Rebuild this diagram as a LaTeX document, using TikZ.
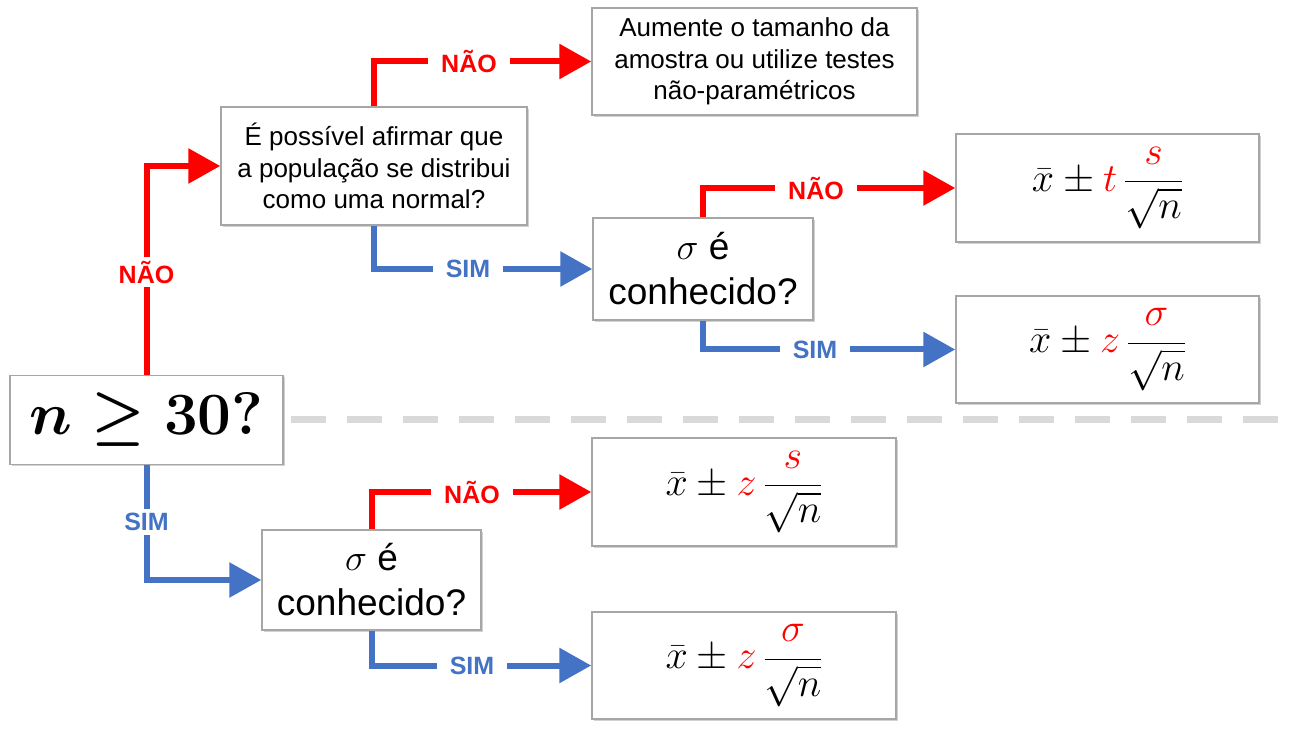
\RequirePackage{fix-cm}
\documentclass[tikz,border=0pt]{standalone}
\usepackage[no-math]{fontspec}
\setmainfont{Liberation Sans}
\usetikzlibrary{arrows.meta,shadows}
\definecolor{myred}{RGB}{255,0,0}
\definecolor{myblue}{RGB}{68,114,196}
\definecolor{boxline}{RGB}{166,166,166}
\definecolor{sepgray}{RGB}{217,217,217}
\tikzset{
  mybox/.style={draw=boxline, line width=1.5pt, fill=white, inner sep=0pt, align=center,
    drop shadow={shadow xshift=2pt, shadow yshift=-2pt, opacity=0.35}},
  bigtext/.style={font=\fontsize{60pt}{70pt}\selectfont\boldmath},
  qtext/.style={font=\fontsize{26pt}{31.5pt}\selectfont},
  qbig/.style={font=\fontsize{37pt}{45pt}\selectfont},
  ftext/.style={font=\fontsize{40pt}{48pt}\selectfont},
  lab/.style={fill=white, inner xsep=13pt, inner ysep=4pt, font=\bfseries\fontsize{25pt}{30pt}\selectfont},
  redlab/.style={lab, text=myred},
  bluelab/.style={lab, text=myblue},
  redline/.style={draw=myred, line width=6pt},
  blueline/.style={draw=myblue, line width=6pt},
  bigtip/.style={-{Triangle[length=32pt,width=34pt]}},
}
\newcommand{\rd}[1]{\textcolor{myred}{#1}}
\begin{document}
\begin{tikzpicture}[x=1pt,y=1pt]
\useasboundingbox (0,0) rectangle (1293,729);
\fill[white] (0,0) rectangle (1293,729);
% boxes
\node[mybox, bigtext, minimum width=273pt, minimum height=89pt] (n30) at (146.5,309) {$n \geq 30?$};
\node[mybox, qtext, minimum width=306pt, minimum height=118pt] (q1) at (374,563) {É possível afirmar que\\a população se distribui\\como uma normal?};
\node[mybox, qtext, minimum width=325pt, minimum height=107pt] (aum) at (754.5,667.5) {Aumente o tamanho da\\amostra ou utilize testes\\não-paramétricos};
\node[mybox, qbig, minimum width=220pt, minimum height=102pt] (q2) at (703,460) {$\sigma$ é\\conhecido?};
\node[mybox, ftext, minimum width=303pt, minimum height=108pt] (f1) at (1107.5,541) {$\displaystyle \bar{x} \pm \rd{t}\,\frac{\rd{s}}{\sqrt{n}}$};
\node[mybox, ftext, minimum width=303pt, minimum height=107pt] (f2) at (1107.5,379.5) {$\displaystyle \bar{x} \pm \rd{z}\,\frac{\rd{\sigma}}{\sqrt{n}}$};
\node[mybox, qbig, minimum width=219pt, minimum height=100pt] (q3) at (371.5,149) {$\sigma$ é\\conhecido?};
\node[mybox, ftext, minimum width=304pt, minimum height=108pt] (f3) at (744,237) {$\displaystyle \bar{x} \pm \rd{z}\,\frac{\rd{s}}{\sqrt{n}}$};
\node[mybox, ftext, minimum width=304pt, minimum height=107pt] (f4) at (744,63.5) {$\displaystyle \bar{x} \pm \rd{z}\,\frac{\rd{\sigma}}{\sqrt{n}}$};
% separator
\coordinate (sepend) at (1280,309);
\draw[sepgray, line width=7pt, dash pattern=on 35pt off 21pt] ([xshift=7pt]n30.east) -- (sepend);
% labels
\node[redlab] (l0) at (146.5,457) {NÃO};
\node[redlab] (l1) at (469,0 |- aum) {NÃO};
\node[bluelab] (l2) at (468,0 |- q2) {SIM};
\node[redlab] (l3) at (816,0 |- f1) {NÃO};
\node[bluelab] (l4) at (815,0 |- f2) {SIM};
\node[bluelab] (l5) at (146.5,207) {SIM};
\node[redlab] (l6) at (472,0 |- f3) {NÃO};
\node[bluelab] (l7) at (472,0 |- f4) {SIM};
% connectors
\draw[redline] (n30.north) -- (l0.south);
\draw[redline, bigtip] (l0.north) |- (q1.west);
\draw[redline] (q1.north) |- (l1.west);
\draw[redline, bigtip] (l1.east) -- (aum.west);
\draw[blueline] (q1.south) |- (l2.west);
\draw[blueline, bigtip] (l2.east) -- (q2.west);
\draw[redline] (q2.north) |- (l3.west);
\draw[redline, bigtip] (l3.east) -- (f1.west);
\draw[blueline] (q2.south) |- (l4.west);
\draw[blueline, bigtip] (l4.east) -- (f2.west);
\draw[blueline] (n30.south) -- (l5.north);
\draw[blueline, bigtip] (l5.south) |- (q3.west);
\draw[redline] (q3.north) |- (l6.west);
\draw[redline, bigtip] (l6.east) -- (f3.west);
\draw[blueline] (q3.south) |- (l7.west);
\draw[blueline, bigtip] (l7.east) -- (f4.west);
\end{tikzpicture}
\end{document}
